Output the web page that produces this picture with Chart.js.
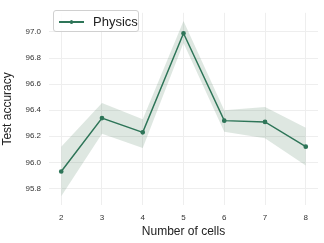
<!DOCTYPE html>
<html>
<head>
<meta charset="utf-8">
<script src="https://cdn.jsdelivr.net/npm/chart.js@4/dist/chart.umd.min.js"></script>
<style>
html,body{margin:0;padding:0;background:#fff;}
#wrap{position:relative;width:324px;height:243px;}
#legend{position:absolute;left:53px;top:10px;width:86px;height:22px;border:1px solid #d0d0d0;border-radius:3px;background:rgba(255,255,255,0.85);font-family:"Liberation Sans",Arial,sans-serif;font-size:13px;color:#222;box-sizing:border-box;}
#legend .ln{position:absolute;left:5px;top:10px;width:25px;height:1.5px;background:#2e7558;}
#legend .pt{position:absolute;left:15.5px;top:9px;width:3.5px;height:3.5px;background:#2e7558;border-radius:50%;}
#legend .tx{position:absolute;left:39px;top:3px;line-height:16px;}
</style>
</head>
<body>
<div id="wrap">
<canvas id="c" width="324" height="243"></canvas>
<div id="legend"><div class="ln"></div><div class="pt"></div><div class="tx">Physics</div></div>
</div>
<script>
const cells = [2, 3, 4, 5, 6, 7, 8];
const physicsMean = [95.93, 96.34, 96.23, 96.99, 96.32, 96.31, 96.12];
const physicsUpper = [96.12, 96.455, 96.33, 97.085, 96.40, 96.425, 96.265];
const physicsLower = [95.74, 96.22, 96.11, 96.915, 96.235, 96.185, 95.975];
const yTicks = [95.8, 96.0, 96.2, 96.4, 96.6, 96.8, 97.0];
const xTicks = [2, 3, 4, 5, 6, 7, 8];

const pts = (ys) => cells.map((x, i) => ({x: x, y: ys[i]}));
const FONT = "'Liberation Sans', Arial, sans-serif";

new Chart(document.getElementById('c'), {
  type: 'line',
  data: {
    datasets: [
      {label: 'upper', data: pts(physicsUpper), borderWidth: 0, pointRadius: 0, fill: false, borderColor: 'rgba(0,0,0,0)', order: 3},
      {label: 'lower', data: pts(physicsLower), borderWidth: 0, pointRadius: 0, fill: '-1', backgroundColor: 'rgba(60,110,75,0.17)', borderColor: 'rgba(0,0,0,0)', order: 2},
      {label: 'Physics', data: pts(physicsMean), borderColor: '#2e7558', backgroundColor: '#2e7558', borderWidth: 1.5, pointRadius: 1.6, pointStyle: 'circle', fill: false, order: 1}
    ]
  },
  options: {
    responsive: false,
    animation: false,
    layout: {padding: {top: 6, right: 6, left: 0, bottom: 0}},
    plugins: {legend: {display: false}, tooltip: {enabled: false}},
    scales: {
      x: {
        type: 'linear', min: 1.7, max: 8.3,
        afterBuildTicks: (a) => { a.ticks = xTicks.map(v => ({value: v})); },
        afterFit: (a) => { a.height = 38; },
        grid: {color: '#eeeeee', lineWidth: 1, drawTicks: false},
        border: {display: false},
        ticks: {padding: 8, font: {family: FONT, size: 8}, color: '#333', callback: (v) => String(v)},
        title: {display: true, text: 'Number of cells', font: {family: FONT, size: 12}, color: '#222', padding: {top: 0, bottom: 4}}
      },
      y: {
        type: 'linear', min: 95.673, max: 97.147,
        afterBuildTicks: (a) => { a.ticks = yTicks.map(v => ({value: v})); },
        afterFit: (a) => { a.width = 49; },
        grid: {color: '#eeeeee', lineWidth: 1, drawTicks: false},
        border: {display: false},
        ticks: {padding: 8, font: {family: FONT, size: 8}, color: '#333', callback: (v) => v.toFixed(1)},
        title: {display: true, text: 'Test accuracy', font: {family: FONT, size: 12}, color: '#222', padding: {top: 0, bottom: 2}}
      }
    }
  }
});
</script>
</body>
</html>
